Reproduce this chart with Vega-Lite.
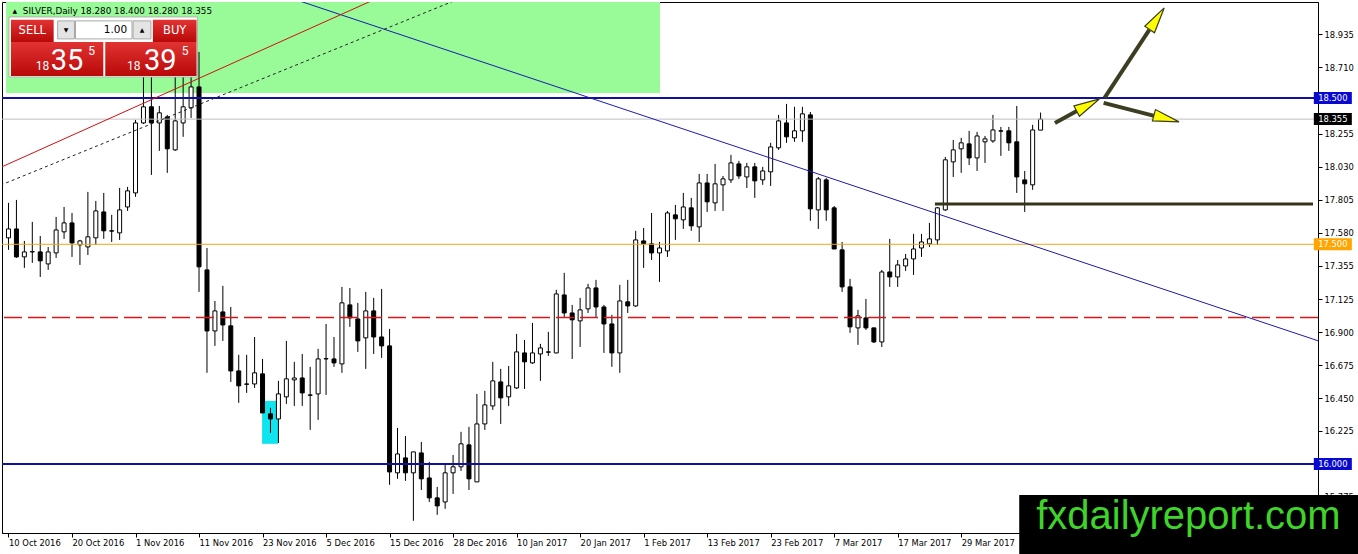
{
  "$schema": "https://vega.github.io/schema/vega-lite/v6.json",
  "width": 1316,
  "height": 531,
  "padding": {"left": 2, "top": 2, "right": 40, "bottom": 21},
  "autosize": {"type": "none"},
  "background": "white",
  "config": {"view": {"stroke": "black", "strokeWidth": 1}, "font": "DejaVu Sans"},
  "datasets": {
    "candles": [
      {"i":0,"o":17.544,"h":17.783,"l":17.462,"c":17.605},
      {"i":1,"o":17.605,"h":17.803,"l":17.407,"c":17.414},
      {"i":2,"o":17.414,"h":17.523,"l":17.339,"c":17.448},
      {"i":3,"o":17.448,"h":17.653,"l":17.373,"c":17.450},
      {"i":4,"o":17.448,"h":17.557,"l":17.277,"c":17.387},
      {"i":5,"o":17.366,"h":17.482,"l":17.325,"c":17.448},
      {"i":6,"o":17.441,"h":17.687,"l":17.407,"c":17.598},
      {"i":7,"o":17.585,"h":17.755,"l":17.537,"c":17.646},
      {"i":8,"o":17.646,"h":17.714,"l":17.414,"c":17.509},
      {"i":9,"o":17.496,"h":17.530,"l":17.359,"c":17.523},
      {"i":10,"o":17.482,"h":17.858,"l":17.427,"c":17.551},
      {"i":11,"o":17.544,"h":17.796,"l":17.496,"c":17.728},
      {"i":12,"o":17.721,"h":17.851,"l":17.537,"c":17.592},
      {"i":13,"o":17.592,"h":17.701,"l":17.516,"c":17.590},
      {"i":14,"o":17.578,"h":17.885,"l":17.530,"c":17.735},
      {"i":15,"o":17.755,"h":17.892,"l":17.728,"c":17.865},
      {"i":16,"o":17.851,"h":18.350,"l":17.824,"c":18.329},
      {"i":17,"o":18.329,"h":18.691,"l":18.322,"c":18.439},
      {"i":18,"o":18.439,"h":18.691,"l":17.974,"c":18.329},
      {"i":19,"o":18.329,"h":18.445,"l":18.138,"c":18.398},
      {"i":20,"o":18.370,"h":18.384,"l":17.988,"c":18.152},
      {"i":21,"o":18.145,"h":18.691,"l":18.138,"c":18.343},
      {"i":22,"o":18.329,"h":18.691,"l":18.234,"c":18.439},
      {"i":23,"o":18.432,"h":18.691,"l":18.363,"c":18.575},
      {"i":24,"o":18.575,"h":18.814,"l":17.175,"c":17.346},
      {"i":25,"o":17.325,"h":17.475,"l":16.622,"c":16.908},
      {"i":26,"o":16.908,"h":17.113,"l":16.806,"c":17.045},
      {"i":27,"o":17.038,"h":17.216,"l":16.840,"c":16.949},
      {"i":28,"o":16.943,"h":17.072,"l":16.560,"c":16.635},
      {"i":29,"o":16.635,"h":16.745,"l":16.417,"c":16.533},
      {"i":30,"o":16.546,"h":16.745,"l":16.485,"c":16.544},
      {"i":31,"o":16.546,"h":16.867,"l":16.519,"c":16.622},
      {"i":32,"o":16.615,"h":16.717,"l":16.348,"c":16.348},
      {"i":33,"o":16.342,"h":16.383,"l":16.212,"c":16.307},
      {"i":34,"o":16.307,"h":16.567,"l":16.143,"c":16.478},
      {"i":35,"o":16.458,"h":16.840,"l":16.410,"c":16.581},
      {"i":36,"o":16.574,"h":16.697,"l":16.396,"c":16.587},
      {"i":37,"o":16.587,"h":16.751,"l":16.396,"c":16.485},
      {"i":38,"o":16.471,"h":16.663,"l":16.232,"c":16.469},
      {"i":39,"o":16.478,"h":16.786,"l":16.301,"c":16.717},
      {"i":40,"o":16.717,"h":16.956,"l":16.471,"c":16.719},
      {"i":41,"o":16.717,"h":16.867,"l":16.663,"c":16.690},
      {"i":42,"o":16.683,"h":17.209,"l":16.622,"c":17.100},
      {"i":43,"o":17.086,"h":17.202,"l":16.936,"c":16.997},
      {"i":44,"o":16.990,"h":17.100,"l":16.765,"c":16.840},
      {"i":45,"o":16.861,"h":17.175,"l":16.649,"c":17.045},
      {"i":46,"o":17.045,"h":17.134,"l":16.751,"c":16.867},
      {"i":47,"o":16.867,"h":17.195,"l":16.724,"c":16.806},
      {"i":48,"o":16.806,"h":16.922,"l":15.857,"c":15.945},
      {"i":49,"o":15.939,"h":16.246,"l":15.898,"c":16.068},
      {"i":50,"o":16.041,"h":16.191,"l":15.884,"c":15.939},
      {"i":51,"o":15.939,"h":16.082,"l":15.611,"c":16.082},
      {"i":52,"o":16.075,"h":16.150,"l":15.822,"c":15.898},
      {"i":53,"o":15.904,"h":16.014,"l":15.740,"c":15.768},
      {"i":54,"o":15.768,"h":15.843,"l":15.652,"c":15.713},
      {"i":55,"o":15.740,"h":16.000,"l":15.693,"c":15.939},
      {"i":56,"o":15.939,"h":16.061,"l":15.795,"c":15.980},
      {"i":57,"o":15.980,"h":16.219,"l":15.952,"c":16.137},
      {"i":58,"o":16.130,"h":16.253,"l":15.822,"c":15.898},
      {"i":59,"o":15.877,"h":16.478,"l":15.877,"c":16.273},
      {"i":60,"o":16.273,"h":16.499,"l":16.232,"c":16.403},
      {"i":61,"o":16.396,"h":16.697,"l":16.369,"c":16.567},
      {"i":62,"o":16.560,"h":16.649,"l":16.273,"c":16.451},
      {"i":63,"o":16.458,"h":16.669,"l":16.396,"c":16.533},
      {"i":64,"o":16.519,"h":16.888,"l":16.512,"c":16.765},
      {"i":65,"o":16.758,"h":16.847,"l":16.512,"c":16.697},
      {"i":66,"o":16.690,"h":16.963,"l":16.683,"c":16.758},
      {"i":67,"o":16.751,"h":16.820,"l":16.567,"c":16.792},
      {"i":68,"o":16.765,"h":16.902,"l":16.738,"c":16.763},
      {"i":69,"o":16.758,"h":17.189,"l":16.756,"c":17.161},
      {"i":70,"o":17.154,"h":17.305,"l":17.004,"c":17.031},
      {"i":71,"o":17.031,"h":17.086,"l":16.717,"c":16.984},
      {"i":72,"o":16.977,"h":17.134,"l":16.799,"c":17.052},
      {"i":73,"o":17.059,"h":17.230,"l":17.031,"c":17.202},
      {"i":74,"o":17.202,"h":17.257,"l":17.004,"c":17.072},
      {"i":75,"o":17.072,"h":17.086,"l":16.758,"c":16.956},
      {"i":76,"o":16.956,"h":17.018,"l":16.663,"c":16.758},
      {"i":77,"o":16.758,"h":17.223,"l":16.622,"c":17.113},
      {"i":78,"o":17.107,"h":17.257,"l":17.031,"c":17.079},
      {"i":79,"o":17.079,"h":17.592,"l":17.072,"c":17.530},
      {"i":80,"o":17.523,"h":17.612,"l":17.339,"c":17.503},
      {"i":81,"o":17.503,"h":17.714,"l":17.393,"c":17.441},
      {"i":82,"o":17.441,"h":17.516,"l":17.243,"c":17.475},
      {"i":83,"o":17.455,"h":17.728,"l":17.414,"c":17.714},
      {"i":84,"o":17.701,"h":17.769,"l":17.530,"c":17.674},
      {"i":85,"o":17.667,"h":17.851,"l":17.605,"c":17.755},
      {"i":86,"o":17.749,"h":17.817,"l":17.592,"c":17.626},
      {"i":87,"o":17.619,"h":17.981,"l":17.516,"c":17.919},
      {"i":88,"o":17.919,"h":17.981,"l":17.721,"c":17.790},
      {"i":89,"o":17.783,"h":18.049,"l":17.728,"c":17.913},
      {"i":90,"o":17.906,"h":17.967,"l":17.728,"c":17.947},
      {"i":91,"o":17.940,"h":18.111,"l":17.919,"c":18.056},
      {"i":92,"o":18.049,"h":18.070,"l":17.947,"c":17.967},
      {"i":93,"o":17.960,"h":18.056,"l":17.885,"c":18.029},
      {"i":94,"o":18.029,"h":18.056,"l":17.817,"c":17.933},
      {"i":95,"o":17.940,"h":18.029,"l":17.906,"c":18.001},
      {"i":96,"o":17.995,"h":18.193,"l":17.899,"c":18.165},
      {"i":97,"o":18.159,"h":18.384,"l":18.145,"c":18.343},
      {"i":98,"o":18.329,"h":18.459,"l":18.193,"c":18.234},
      {"i":99,"o":18.227,"h":18.439,"l":18.200,"c":18.275},
      {"i":100,"o":18.275,"h":18.439,"l":18.200,"c":18.391},
      {"i":101,"o":18.384,"h":18.404,"l":17.660,"c":17.742},
      {"i":102,"o":17.735,"h":17.960,"l":17.605,"c":17.947},
      {"i":103,"o":17.940,"h":17.953,"l":17.660,"c":17.735},
      {"i":104,"o":17.749,"h":17.762,"l":17.468,"c":17.468},
      {"i":105,"o":17.462,"h":17.516,"l":17.175,"c":17.209},
      {"i":106,"o":17.209,"h":17.264,"l":16.895,"c":16.936},
      {"i":107,"o":16.929,"h":17.052,"l":16.813,"c":17.011},
      {"i":108,"o":16.997,"h":17.127,"l":16.915,"c":16.929},
      {"i":109,"o":16.929,"h":16.931,"l":16.826,"c":16.833},
      {"i":110,"o":16.833,"h":17.325,"l":16.799,"c":17.311},
      {"i":111,"o":17.311,"h":17.537,"l":17.209,"c":17.277},
      {"i":112,"o":17.277,"h":17.393,"l":17.209,"c":17.359},
      {"i":113,"o":17.352,"h":17.434,"l":17.318,"c":17.400},
      {"i":114,"o":17.400,"h":17.571,"l":17.291,"c":17.468},
      {"i":115,"o":17.475,"h":17.571,"l":17.414,"c":17.516},
      {"i":116,"o":17.503,"h":17.646,"l":17.482,"c":17.537},
      {"i":117,"o":17.530,"h":17.755,"l":17.496,"c":17.749},
      {"i":118,"o":17.735,"h":18.097,"l":17.728,"c":18.077},
      {"i":119,"o":18.063,"h":18.213,"l":17.960,"c":18.145},
      {"i":120,"o":18.152,"h":18.227,"l":17.988,"c":18.193},
      {"i":121,"o":18.186,"h":18.275,"l":18.042,"c":18.090},
      {"i":122,"o":18.090,"h":18.268,"l":18.001,"c":18.240},
      {"i":123,"o":18.200,"h":18.240,"l":18.056,"c":18.220},
      {"i":124,"o":18.206,"h":18.384,"l":18.193,"c":18.281},
      {"i":125,"o":18.275,"h":18.302,"l":18.104,"c":18.273},
      {"i":126,"o":18.275,"h":18.302,"l":18.138,"c":18.193},
      {"i":127,"o":18.200,"h":18.445,"l":17.851,"c":17.960},
      {"i":128,"o":17.940,"h":18.001,"l":17.721,"c":17.913},
      {"i":129,"o":17.906,"h":18.316,"l":17.872,"c":18.281},
      {"i":130,"o":18.280,"h":18.400,"l":18.280,"c":18.355}
    ]
  },
  "layer": [
    {
      "data": {"values": [{"i": -0.3, "i2": 82.06, "p": 19.2, "p2": 18.534}]},
      "mark": {"type": "rect", "fill": "#98fb98", "clip": true},
      "encoding": {
        "x": {
          "field": "i", "type": "quantitative",
          "scale": {"domain": [-0.1875, 164.3125], "nice": false, "zero": false},
          "axis": {
            "values": [0, 8, 16, 24, 32, 40, 48, 56, 64, 72, 80, 88, 96, 104, 112, 120],
            "labelExpr": "['10 Oct 2016','20 Oct 2016','1 Nov 2016','11 Nov 2016','23 Nov 2016','5 Dec 2016','15 Dec 2016','28 Dec 2016','10 Jan 2017','20 Jan 2017','1 Feb 2017','13 Feb 2017','23 Feb 2017','7 Mar 2017','17 Mar 2017','29 Mar 2017'][round(datum.value/8)]",
            "title": null, "grid": false, "orient": "bottom",
            "tickSize": 4, "tickColor": "black", "domainColor": "black",
            "labelAlign": "left", "labelBaseline": "top", "labelPadding": 1, "labelDx": 2,
            "labelFont": "DejaVu Sans", "labelFontSize": 8.4, "labelColor": "black",
            "labelOverlap": false, "labelFlush": false, "labelBound": false
          }
        },
        "x2": {"field": "i2"},
        "y": {
          "field": "p", "type": "quantitative",
          "scale": {"domain": [15.528, 19.155], "nice": false, "zero": false},
          "axis": {
            "values": [15.775, 16.225, 16.45, 16.675, 16.9, 17.125, 17.355, 17.58, 17.805, 18.03, 18.255, 18.71, 18.935],
            "format": ".3f", "title": null, "grid": false, "orient": "right",
            "tickSize": 4, "tickColor": "black", "domainColor": "black",
            "labelAlign": "left", "labelBaseline": "middle", "labelPadding": 2,
            "labelFont": "DejaVu Sans", "labelFontSize": 8.4, "labelColor": "black",
            "labelOverlap": false, "labelFlush": false, "labelBound": false
          }
        },
        "y2": {"field": "p2"}
      }
    },
    {
      "data": {"values": [{"i": 31.94, "i2": 33.94, "p": 16.43, "p2": 16.137}]},
      "mark": {"type": "rect", "fill": "#10e4ee"},
      "encoding": {
        "x": {"field": "i", "type": "quantitative", "title": null},
        "x2": {"field": "i2"},
        "y": {"field": "p", "type": "quantitative", "title": null},
        "y2": {"field": "p2"}
      }
    },
    {
      "data": {"name": "candles"},
      "mark": {"type": "rule", "color": "black", "strokeWidth": 1},
      "encoding": {
        "x": {"field": "i", "type": "quantitative", "title": null},
        "y": {"field": "h", "type": "quantitative", "title": null},
        "y2": {"field": "l"}
      }
    },
    {
      "data": {"name": "candles"},
      "mark": {"type": "bar", "width": 4, "stroke": "black", "strokeWidth": 1},
      "encoding": {
        "x": {"field": "i", "type": "quantitative", "title": null},
        "y": {"field": "o", "type": "quantitative", "title": null},
        "y2": {"field": "c"},
        "fill": {"condition": {"test": "datum.c > datum.o", "value": "white"}, "value": "black"}
      }
    },
    {
      "data": {"values": [{"p": 17.5}]},
      "mark": {"type": "rule", "color": "#f4a417", "strokeWidth": 1},
      "encoding": {"y": {"field": "p", "type": "quantitative", "title": null}}
    },
    {
      "data": {"values": [{"p": 17.0}]},
      "mark": {"type": "rule", "stroke": "#d81818", "strokeWidth": 1.4, "strokeDash": [18, 6], "opacity": 1},
      "encoding": {"y": {"field": "p", "type": "quantitative", "title": null}}
    },
    {
      "data": {"values": [{"p": 18.355}]},
      "mark": {"type": "rule", "color": "#c0c0c0", "strokeWidth": 1},
      "encoding": {"y": {"field": "p", "type": "quantitative", "title": null}}
    },
    {
      "data": {"values": [{"p": 18.5}, {"p": 16.0}]},
      "mark": {"type": "rule", "color": "#10109c", "strokeWidth": 2},
      "encoding": {"y": {"field": "p", "type": "quantitative", "title": null}}
    },
    {
      "data": {"values": [{"i": 116.69, "i2": 164.3125, "p": 17.776}]},
      "mark": {"type": "rule", "color": "#35351c", "strokeWidth": 3},
      "encoding": {
        "x": {"field": "i", "type": "quantitative", "title": null},
        "x2": {"field": "i2"},
        "y": {"field": "p", "type": "quantitative", "title": null}
      }
    },
    {
      "data": {"values": [{"i": 36.5, "p": 19.165}, {"i": 165.5, "p": 16.831}]},
      "mark": {"type": "line", "color": "#1a1ab0", "strokeWidth": 1, "clip": true},
      "encoding": {
        "x": {"field": "i", "type": "quantitative", "title": null},
        "y": {"field": "p", "type": "quantitative", "title": null}
      }
    },
    {
      "data": {"values": [{"i": -1, "p": 18.025}, {"i": 47, "p": 19.194}]},
      "mark": {"type": "line", "color": "#d01010", "strokeWidth": 1, "clip": true},
      "encoding": {
        "x": {"field": "i", "type": "quantitative", "title": null},
        "y": {"field": "p", "type": "quantitative", "title": null}
      }
    },
    {
      "data": {"values": [{"i": -1, "p": 17.904}, {"i": 58, "p": 19.204}]},
      "mark": {"type": "line", "color": "#222222", "strokeWidth": 1, "strokeDash": [3, 3], "clip": true},
      "encoding": {
        "x": {"field": "i", "type": "quantitative", "title": null},
        "y": {"field": "p", "type": "quantitative", "title": null}
      }
    },
    {
      "data": {"values": [
        {"a": 1, "i": 131.81, "p": 18.329}, {"a": 1, "i": 134.56, "p": 18.411},
        {"a": 2, "i": 138.06, "p": 18.5}, {"a": 2, "i": 143.69, "p": 18.965},
        {"a": 3, "i": 137.94, "p": 18.466}, {"a": 3, "i": 144.31, "p": 18.377}
      ]},
      "mark": {"type": "line", "color": "#3d3d22", "strokeWidth": 4, "strokeCap": "butt"},
      "encoding": {
        "x": {"field": "i", "type": "quantitative", "title": null},
        "y": {"field": "p", "type": "quantitative", "title": null},
        "detail": {"field": "a"}
      }
    },
    {
      "data": {"values": [
        {"i": 135.99, "p": 18.452, "ang": 62},
        {"i": 144.65, "p": 19.041, "ang": 34},
        {"i": 145.86, "p": 18.359, "ang": 105}
      ]},
      "mark": {"type": "point", "shape": "M0,-1L0.45,1L-0.45,1Z", "size": 676, "filled": true, "fill": "#ffff00", "stroke": "#3d3d22", "strokeWidth": 1.2, "opacity": 1},
      "encoding": {
        "x": {"field": "i", "type": "quantitative", "title": null},
        "y": {"field": "p", "type": "quantitative", "title": null},
        "angle": {"field": "ang", "type": "quantitative", "scale": null}
      }
    },
    {
      "data": {"values": [{"i": 0.06, "i2": 23.8, "p": 19.053, "p2": 18.643}]},
      "mark": {"type": "rect", "fill": "white", "stroke": "#b0b0b0", "strokeWidth": 1},
      "encoding": {
        "x": {"field": "i", "type": "quantitative", "title": null},
        "x2": {"field": "i2"},
        "y": {"field": "p", "type": "quantitative", "title": null},
        "y2": {"field": "p2"}
      }
    },
    {
      "data": {"values": [
        {"i": 0.31, "i2": 5.69, "p": 19.033, "p2": 18.882},
        {"i": 18.19, "i2": 23.69, "p": 19.033, "p2": 18.882},
        {"i": 0.31, "i2": 11.94, "p": 18.882, "p2": 18.65},
        {"i": 12.19, "i2": 23.69, "p": 18.882, "p2": 18.65}
      ]},
      "mark": {"type": "rect", "fill": {"gradient": "linear", "x1": 0, "y1": 0, "x2": 0, "y2": 1, "stops": [{"offset": 0, "color": "#e23333"}, {"offset": 1, "color": "#b80808"}]}},
      "encoding": {
        "x": {"field": "i", "type": "quantitative", "title": null},
        "x2": {"field": "i2"},
        "y": {"field": "p", "type": "quantitative", "title": null},
        "y2": {"field": "p2"}
      }
    },
    {
      "data": {"values": [
        {"i": 6.19, "i2": 8.31, "p": 19.026, "p2": 18.903},
        {"i": 15.69, "i2": 17.94, "p": 19.026, "p2": 18.903}
      ]},
      "mark": {"type": "rect", "fill": "#e4e4e4", "stroke": "#a8a8a8", "strokeWidth": 1},
      "encoding": {
        "x": {"field": "i", "type": "quantitative", "title": null},
        "x2": {"field": "i2"},
        "y": {"field": "p", "type": "quantitative", "title": null},
        "y2": {"field": "p2"}
      }
    },
    {
      "data": {"values": [{"i": 8.44, "i2": 15.56, "p": 19.026, "p2": 18.903}]},
      "mark": {"type": "rect", "fill": "white", "stroke": "#a8a8a8", "strokeWidth": 1},
      "encoding": {
        "x": {"field": "i", "type": "quantitative", "title": null},
        "x2": {"field": "i2"},
        "y": {"field": "p", "type": "quantitative", "title": null},
        "y2": {"field": "p2"}
      }
    },
    {
      "data": {"values": [{"i": 3.0, "p": 18.958, "t": "SELL"}, {"i": 20.94, "p": 18.958, "t": "BUY"}]},
      "mark": {"type": "text", "font": "DejaVu Sans", "fontSize": 11.5, "color": "white", "align": "center", "baseline": "middle"},
      "encoding": {
        "x": {"field": "i", "type": "quantitative", "title": null},
        "y": {"field": "p", "type": "quantitative", "title": null},
        "text": {"field": "t"}
      }
    },
    {
      "data": {"values": [{"i": 14.94, "p": 18.964, "t": "1.00"}]},
      "mark": {"type": "text", "font": "DejaVu Sans", "fontSize": 10.5, "color": "black", "align": "right", "baseline": "middle"},
      "encoding": {
        "x": {"field": "i", "type": "quantitative", "title": null},
        "y": {"field": "p", "type": "quantitative", "title": null},
        "text": {"field": "t"}
      }
    },
    {
      "data": {"values": [{"i": 7.25, "p": 18.964, "t": "▼"}, {"i": 16.81, "p": 18.964, "t": "▲"}, {"i": 0.81, "p": 19.094, "t": "▲"}]},
      "mark": {"type": "text", "font": "DejaVu Sans", "fontSize": 6, "color": "black", "align": "center", "baseline": "middle"},
      "encoding": {
        "x": {"field": "i", "type": "quantitative", "title": null},
        "y": {"field": "p", "type": "quantitative", "title": null},
        "text": {"field": "t"}
      }
    },
    {
      "data": {"values": [{"i": 1.81, "p": 19.094, "t": "SILVER,Daily  18.280 18.400 18.280 18.355"}]},
      "mark": {"type": "text", "font": "DejaVu Sans", "fontSize": 8.8, "color": "black", "align": "left", "baseline": "middle"},
      "encoding": {
        "x": {"field": "i", "type": "quantitative", "title": null},
        "y": {"field": "p", "type": "quantitative", "title": null},
        "text": {"field": "t"}
      }
    },
    {
      "data": {"values": [{"i": 3.44, "p": 18.691, "t": "18"}, {"i": 14.94, "p": 18.691, "t": "18"}]},
      "mark": {"type": "text", "font": "Roboto", "fontSize": 12, "color": "white", "align": "left", "baseline": "alphabetic"},
      "encoding": {
        "x": {"field": "i", "type": "quantitative", "title": null},
        "y": {"field": "p", "type": "quantitative", "title": null},
        "text": {"field": "t"}
      }
    },
    {
      "data": {"values": [{"i": 5.31, "p": 18.691, "t": "35"}, {"i": 17.06, "p": 18.691, "t": "39"}]},
      "mark": {"type": "text", "font": "Roboto", "fontSize": 29, "color": "white", "align": "left", "baseline": "alphabetic"},
      "encoding": {
        "x": {"field": "i", "type": "quantitative", "title": null},
        "y": {"field": "p", "type": "quantitative", "title": null},
        "text": {"field": "t"}
      }
    },
    {
      "data": {"values": [{"i": 10.06, "p": 18.794, "t": "5"}, {"i": 21.81, "p": 18.794, "t": "5"}]},
      "mark": {"type": "text", "font": "Roboto", "fontSize": 12, "color": "white", "align": "left", "baseline": "alphabetic"},
      "encoding": {
        "x": {"field": "i", "type": "quantitative", "title": null},
        "y": {"field": "p", "type": "quantitative", "title": null},
        "text": {"field": "t"}
      }
    },
    {
      "data": {"values": [{"p": 18.5, "label": "18.500"}, {"p": 18.355, "label": "18.355"}, {"p": 17.5, "label": "17.500"}, {"p": 16.0, "label": "16.000"}]},
      "mark": {"type": "tick", "orient": "horizontal", "thickness": 12, "size": 38, "opacity": 1},
      "encoding": {
        "x": {"datum": 166.81, "type": "quantitative", "title": null},
        "y": {"field": "p", "type": "quantitative", "title": null},
        "color": {"field": "label", "type": "nominal", "scale": {"domain": ["18.500", "18.355", "17.500", "16.000"], "range": ["#0808d0", "#000000", "#ffa500", "#0808d0"]}, "legend": null}
      }
    },
    {
      "data": {"values": [{"p": 18.5, "label": "18.500"}, {"p": 18.355, "label": "18.355"}, {"p": 17.5, "label": "17.500"}, {"p": 16.0, "label": "16.000"}]},
      "mark": {"type": "text", "font": "DejaVu Sans", "fontSize": 8.4, "color": "white", "align": "center", "baseline": "middle"},
      "encoding": {
        "x": {"datum": 166.81, "type": "quantitative", "title": null},
        "y": {"field": "p", "type": "quantitative", "title": null},
        "text": {"field": "label"}
      }
    },
    {
      "data": {"values": [{}]},
      "mark": {"type": "rect", "fill": "black"},
      "encoding": {
        "x": {"datum": 127.31, "type": "quantitative", "title": null},
        "x2": {"datum": 170},
        "y": {"datum": 15.788, "type": "quantitative", "title": null},
        "y2": {"datum": 15.3}
      }
    },
    {
      "data": {"values": [{"t": "fxdailyreport.com"}]},
      "mark": {"type": "text", "font": "Liberation Sans", "fontSize": 40, "color": "#3ed42a", "align": "left", "baseline": "alphabetic"},
      "encoding": {
        "x": {"datum": 129.44, "type": "quantitative", "title": null},
        "y": {"datum": 15.556, "type": "quantitative", "title": null},
        "text": {"field": "t"}
      }
    }
  ]
}
